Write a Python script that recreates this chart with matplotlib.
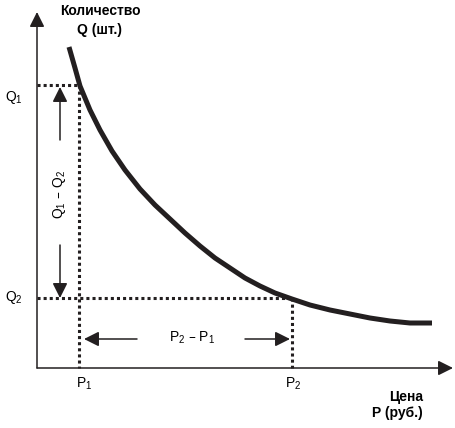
import numpy as np
import matplotlib
matplotlib.use("Agg")
import matplotlib.pyplot as plt

plt.rcParams['font.family'] = ['Liberation Sans', 'DejaVu Sans']
plt.rcParams['mathtext.default'] = 'regular'

# кривая спроса (цена, количество)
price = [32, 38, 43, 53, 63, 75, 88, 103, 118, 133, 148, 163, 178, 193, 208,
         223, 238, 255, 273, 293, 313, 333, 353, 373, 395]
quantity = [321, 300, 282, 258, 238, 217, 198, 179, 163, 149, 135, 122, 110, 100,
            90, 82, 75, 69, 63, 58, 54, 50, 47, 45, 45]

p1, p2 = 42, 255
q1, q2 = 283, 70

x_labels = ['$P_1$', '$P_2$']
y_labels = ['$Q_1$', '$Q_2$']
x_title = ['Цена', 'P (руб.)']
y_title = ['Количество', 'Q (шт.)']

fig = plt.figure(figsize=(4.56, 4.28), dpi=100)
ax = fig.add_axes([0, 0, 1, 1])
ax.set_xlim(-37, 419)
ax.set_ylim(-60, 368)
ax.axis('off')

ink = '#231f20'
head = dict(arrowstyle='-|>,head_length=0.6,head_width=0.3', mutation_scale=15,
            lw=1.1, color=ink, shrinkA=0, shrinkB=0)

# оси
ax.annotate('', xy=(0, 356), xytext=(0, 0), arrowprops=head)
ax.annotate('', xy=(416, 0), xytext=(0, 0), arrowprops=head)

# пунктирные линии
dot = dict(color=ink, lw=2.2, linestyle=(0, (1, 1)), dash_capstyle='butt')
ax.plot([0, p1], [q1, q1], **dot)
ax.plot([p1, p1], [q1, 0], **dot)
ax.plot([0, p2], [q2, q2], **dot)
ax.plot([p2, p2], [q2, 0], **dot)

# кривая
ax.plot(price, quantity, color=ink, lw=3.6, solid_capstyle='butt',
        solid_joinstyle='round')

# стрелки разностей
ax.annotate('', xy=(23, q1 - 2), xytext=(23, 228), arrowprops=head)
ax.annotate('', xy=(23, q2), xytext=(23, 123), arrowprops=head)
ax.text(22, 174, '$Q_1$ – $Q_2$', rotation=90, ha='center', va='center', fontsize=10)

ax.annotate('', xy=(p1 + 5, 29), xytext=(100, 29), arrowprops=head)
ax.annotate('', xy=(p2 - 2, 29), xytext=(208, 29), arrowprops=head)
ax.text(155, 30, '$P_2$ – $P_1$', ha='center', va='center', fontsize=10)

# подписи
ax.text(p1 + 5, -16, x_labels[0], ha='center', va='center', fontsize=10)
ax.text(p2 + 1, -16, x_labels[1], ha='center', va='center', fontsize=10)
ax.text(-23, q1 - 12, y_labels[0], ha='center', va='center', fontsize=10)
ax.text(-23, q2, y_labels[1], ha='center', va='center', fontsize=10)

ax.text(386, -29, x_title[0], ha='right', va='center', fontsize=10, fontweight='bold')
ax.text(386, -45, x_title[1], ha='right', va='center', fontsize=10, fontweight='bold')
ax.text(63, 357, y_title[0], ha='center', va='center', fontsize=10, fontweight='bold')
ax.text(63, 338, y_title[1], ha='center', va='center', fontsize=10, fontweight='bold')

fig.savefig('out.png', dpi=100)
